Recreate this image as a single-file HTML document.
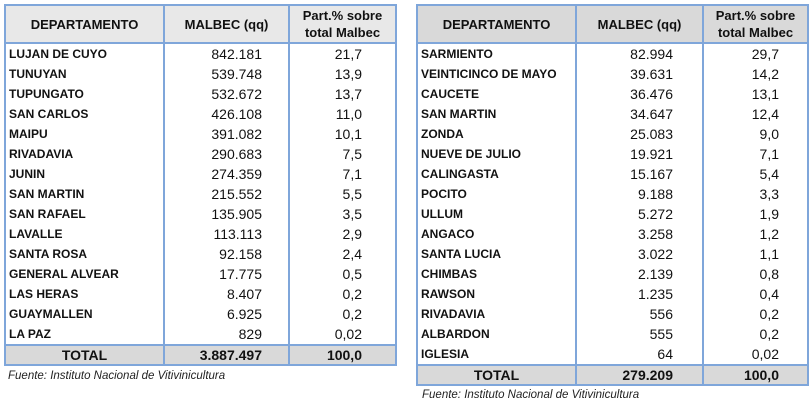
<!DOCTYPE html>
<html><head><meta charset="utf-8"><style>
body{margin:0;width:809px;height:411px;background:#fff;font-family:"Liberation Sans",sans-serif;position:relative;overflow:hidden}
table{position:absolute;border-collapse:collapse;table-layout:fixed}
td{border-left:2px solid #7fa6da;border-right:2px solid #7fa6da;height:20px;padding:0;font-size:14px;color:#111;white-space:nowrap;overflow:hidden;line-height:20px}
td.n{font-weight:bold;font-size:12px;padding-left:3px}
tr.h td{height:36px;font-weight:bold;font-size:13px;text-align:center;line-height:17px;border:2px solid #7fa6da;background:#e8e8e8}
tr.t td{height:18px;line-height:18px;background:#d9d9d9;font-weight:bold;font-size:14px;border:2px solid #7fa6da}
#L td:nth-child(2){text-align:right;padding-right:26px}
#L td:nth-child(3){text-align:right;padding-right:33px}
#R td:nth-child(2){text-align:right;padding-right:29px}
#R td:nth-child(3){text-align:right;padding-right:28px}
#R tr.h td{background:#d9d9d9}
tr.h td:nth-child(2),tr.h td:nth-child(3){text-align:center!important;padding-right:0!important}
tr.t td:first-child{text-align:center}
.f{position:absolute;font-style:italic;font-size:11.5px;color:#222}
</style></head><body>
<table id="L" style="left:4px;top:4px;width:391px">
<colgroup><col style="width:159px"><col style="width:125px"><col style="width:107px"></colgroup>
<tr class="h"><td>DEPARTAMENTO</td><td>MALBEC (qq)</td><td>Part.% sobre<br>total Malbec</td></tr>
<tr><td class="n">LUJAN DE CUYO</td><td>842.181</td><td>21,7</td></tr>
<tr><td class="n">TUNUYAN</td><td>539.748</td><td>13,9</td></tr>
<tr><td class="n">TUPUNGATO</td><td>532.672</td><td>13,7</td></tr>
<tr><td class="n">SAN CARLOS</td><td>426.108</td><td>11,0</td></tr>
<tr><td class="n">MAIPU</td><td>391.082</td><td>10,1</td></tr>
<tr><td class="n">RIVADAVIA</td><td>290.683</td><td>7,5</td></tr>
<tr><td class="n">JUNIN</td><td>274.359</td><td>7,1</td></tr>
<tr><td class="n">SAN MARTIN</td><td>215.552</td><td>5,5</td></tr>
<tr><td class="n">SAN RAFAEL</td><td>135.905</td><td>3,5</td></tr>
<tr><td class="n">LAVALLE</td><td>113.113</td><td>2,9</td></tr>
<tr><td class="n">SANTA ROSA</td><td>92.158</td><td>2,4</td></tr>
<tr><td class="n">GENERAL ALVEAR</td><td>17.775</td><td>0,5</td></tr>
<tr><td class="n">LAS HERAS</td><td>8.407</td><td>0,2</td></tr>
<tr><td class="n">GUAYMALLEN</td><td>6.925</td><td>0,2</td></tr>
<tr><td class="n">LA PAZ</td><td>829</td><td>0,02</td></tr>
<tr class="t"><td>TOTAL</td><td>3.887.497</td><td>100,0</td></tr>
</table>
<div class="f" style="left:8px;top:370px">Fuente: Instituto Nacional de Vitivinicultura</div>
<table id="R" style="left:416px;top:4px;width:391px">
<colgroup><col style="width:159px"><col style="width:127px"><col style="width:105px"></colgroup>
<tr class="h"><td>DEPARTAMENTO</td><td>MALBEC (qq)</td><td>Part.% sobre<br>total Malbec</td></tr>
<tr><td class="n">SARMIENTO</td><td>82.994</td><td>29,7</td></tr>
<tr><td class="n">VEINTICINCO DE MAYO</td><td>39.631</td><td>14,2</td></tr>
<tr><td class="n">CAUCETE</td><td>36.476</td><td>13,1</td></tr>
<tr><td class="n">SAN MARTIN</td><td>34.647</td><td>12,4</td></tr>
<tr><td class="n">ZONDA</td><td>25.083</td><td>9,0</td></tr>
<tr><td class="n">NUEVE DE JULIO</td><td>19.921</td><td>7,1</td></tr>
<tr><td class="n">CALINGASTA</td><td>15.167</td><td>5,4</td></tr>
<tr><td class="n">POCITO</td><td>9.188</td><td>3,3</td></tr>
<tr><td class="n">ULLUM</td><td>5.272</td><td>1,9</td></tr>
<tr><td class="n">ANGACO</td><td>3.258</td><td>1,2</td></tr>
<tr><td class="n">SANTA LUCIA</td><td>3.022</td><td>1,1</td></tr>
<tr><td class="n">CHIMBAS</td><td>2.139</td><td>0,8</td></tr>
<tr><td class="n">RAWSON</td><td>1.235</td><td>0,4</td></tr>
<tr><td class="n">RIVADAVIA</td><td>556</td><td>0,2</td></tr>
<tr><td class="n">ALBARDON</td><td>555</td><td>0,2</td></tr>
<tr><td class="n">IGLESIA</td><td>64</td><td>0,02</td></tr>
<tr class="t"><td>TOTAL</td><td>279.209</td><td>100,0</td></tr>
</table>
<div class="f" style="left:422px;top:389px">Fuente: Instituto Nacional de Vitivinicultura</div>
</body></html>
